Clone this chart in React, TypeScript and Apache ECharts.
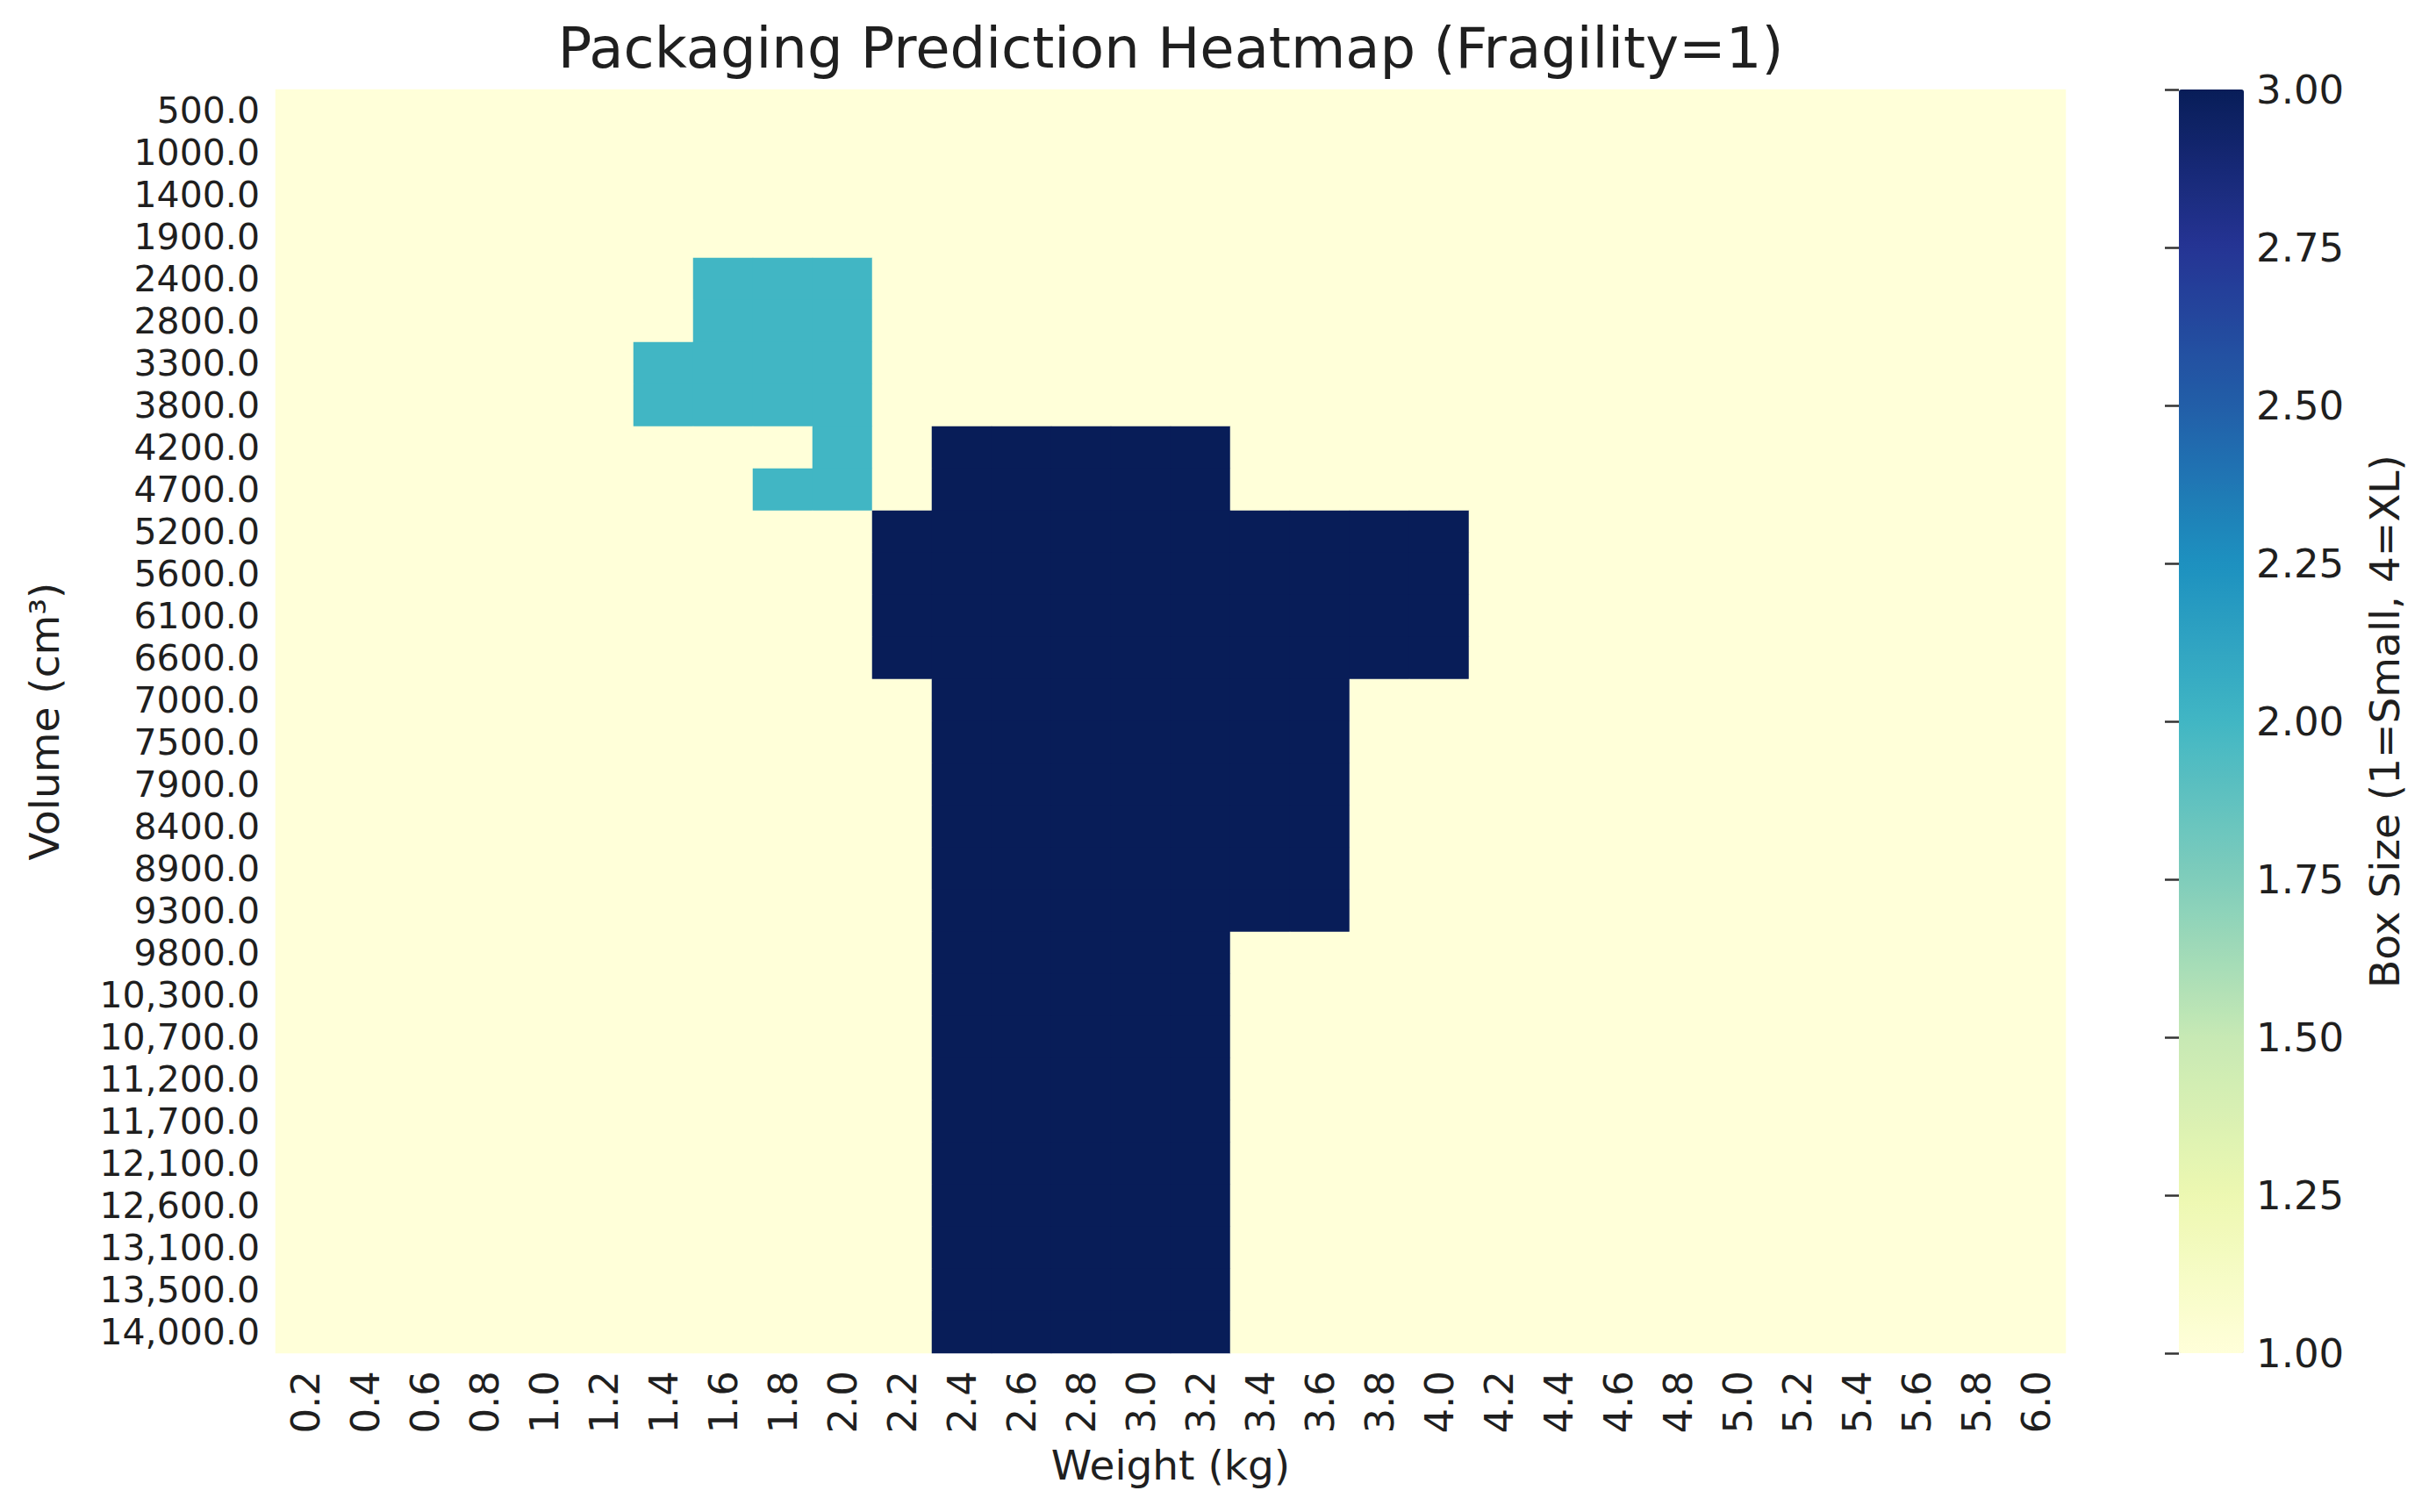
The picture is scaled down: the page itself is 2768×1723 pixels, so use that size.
import React, { useEffect, useRef } from "react";
import * as echarts from "echarts";

// ---- data ----
const weights = [
  "0.2", "0.4", "0.6", "0.8", "1.0", "1.2", "1.4", "1.6", "1.8", "2.0",
  "2.2", "2.4", "2.6", "2.8", "3.0", "3.2", "3.4", "3.6", "3.8", "4.0",
  "4.2", "4.4", "4.6", "4.8", "5.0", "5.2", "5.4", "5.6", "5.8", "6.0",
];

const volumes = [
  "500.0", "1000.0", "1400.0", "1900.0", "2400.0", "2800.0", "3300.0", "3800.0",
  "4200.0", "4700.0", "5200.0", "5600.0", "6100.0", "6600.0", "7000.0", "7500.0",
  "7900.0", "8400.0", "8900.0", "9300.0", "9800.0", "10,300.0", "10,700.0",
  "11,200.0", "11,700.0", "12,100.0", "12,600.0", "13,100.0", "13,500.0", "14,000.0",
];

// predicted box size per volume row (top to bottom) and weight column (left to right)
const boxSize: number[][] = [
  [1,1,1,1,1,1,1,1,1,1, 1,1,1,1,1,1,1,1,1,1, 1,1,1,1,1,1,1,1,1,1], // 500
  [1,1,1,1,1,1,1,1,1,1, 1,1,1,1,1,1,1,1,1,1, 1,1,1,1,1,1,1,1,1,1], // 1000
  [1,1,1,1,1,1,1,1,1,1, 1,1,1,1,1,1,1,1,1,1, 1,1,1,1,1,1,1,1,1,1], // 1400
  [1,1,1,1,1,1,1,1,1,1, 1,1,1,1,1,1,1,1,1,1, 1,1,1,1,1,1,1,1,1,1], // 1900
  [1,1,1,1,1,1,1,2,2,2, 1,1,1,1,1,1,1,1,1,1, 1,1,1,1,1,1,1,1,1,1], // 2400
  [1,1,1,1,1,1,1,2,2,2, 1,1,1,1,1,1,1,1,1,1, 1,1,1,1,1,1,1,1,1,1], // 2800
  [1,1,1,1,1,1,2,2,2,2, 1,1,1,1,1,1,1,1,1,1, 1,1,1,1,1,1,1,1,1,1], // 3300
  [1,1,1,1,1,1,2,2,2,2, 1,1,1,1,1,1,1,1,1,1, 1,1,1,1,1,1,1,1,1,1], // 3800
  [1,1,1,1,1,1,1,1,1,2, 1,3,3,3,3,3,1,1,1,1, 1,1,1,1,1,1,1,1,1,1], // 4200
  [1,1,1,1,1,1,1,1,2,2, 1,3,3,3,3,3,1,1,1,1, 1,1,1,1,1,1,1,1,1,1], // 4700
  [1,1,1,1,1,1,1,1,1,1, 3,3,3,3,3,3,3,3,3,3, 1,1,1,1,1,1,1,1,1,1], // 5200
  [1,1,1,1,1,1,1,1,1,1, 3,3,3,3,3,3,3,3,3,3, 1,1,1,1,1,1,1,1,1,1], // 5600
  [1,1,1,1,1,1,1,1,1,1, 3,3,3,3,3,3,3,3,3,3, 1,1,1,1,1,1,1,1,1,1], // 6100
  [1,1,1,1,1,1,1,1,1,1, 3,3,3,3,3,3,3,3,3,3, 1,1,1,1,1,1,1,1,1,1], // 6600
  [1,1,1,1,1,1,1,1,1,1, 1,3,3,3,3,3,3,3,1,1, 1,1,1,1,1,1,1,1,1,1], // 7000
  [1,1,1,1,1,1,1,1,1,1, 1,3,3,3,3,3,3,3,1,1, 1,1,1,1,1,1,1,1,1,1], // 7500
  [1,1,1,1,1,1,1,1,1,1, 1,3,3,3,3,3,3,3,1,1, 1,1,1,1,1,1,1,1,1,1], // 7900
  [1,1,1,1,1,1,1,1,1,1, 1,3,3,3,3,3,3,3,1,1, 1,1,1,1,1,1,1,1,1,1], // 8400
  [1,1,1,1,1,1,1,1,1,1, 1,3,3,3,3,3,3,3,1,1, 1,1,1,1,1,1,1,1,1,1], // 8900
  [1,1,1,1,1,1,1,1,1,1, 1,3,3,3,3,3,3,3,1,1, 1,1,1,1,1,1,1,1,1,1], // 9300
  [1,1,1,1,1,1,1,1,1,1, 1,3,3,3,3,3,1,1,1,1, 1,1,1,1,1,1,1,1,1,1], // 9800
  [1,1,1,1,1,1,1,1,1,1, 1,3,3,3,3,3,1,1,1,1, 1,1,1,1,1,1,1,1,1,1], // 10300
  [1,1,1,1,1,1,1,1,1,1, 1,3,3,3,3,3,1,1,1,1, 1,1,1,1,1,1,1,1,1,1], // 10700
  [1,1,1,1,1,1,1,1,1,1, 1,3,3,3,3,3,1,1,1,1, 1,1,1,1,1,1,1,1,1,1], // 11200
  [1,1,1,1,1,1,1,1,1,1, 1,3,3,3,3,3,1,1,1,1, 1,1,1,1,1,1,1,1,1,1], // 11700
  [1,1,1,1,1,1,1,1,1,1, 1,3,3,3,3,3,1,1,1,1, 1,1,1,1,1,1,1,1,1,1], // 12100
  [1,1,1,1,1,1,1,1,1,1, 1,3,3,3,3,3,1,1,1,1, 1,1,1,1,1,1,1,1,1,1], // 12600
  [1,1,1,1,1,1,1,1,1,1, 1,3,3,3,3,3,1,1,1,1, 1,1,1,1,1,1,1,1,1,1], // 13100
  [1,1,1,1,1,1,1,1,1,1, 1,3,3,3,3,3,1,1,1,1, 1,1,1,1,1,1,1,1,1,1], // 13500
  [1,1,1,1,1,1,1,1,1,1, 1,3,3,3,3,3,1,1,1,1, 1,1,1,1,1,1,1,1,1,1], // 14000
];

const colorbarTicks = [1.0, 1.25, 1.5, 1.75, 2.0, 2.25, 2.5, 2.75, 3.0];

const ylgnbu = [
  "#ffffd9", "#edf8b1", "#c7e9b4", "#7fcdbb", "#41b6c4",
  "#1d91c0", "#225ea8", "#253494", "#081d58",
];

const titleText = "Packaging Prediction Heatmap (Fragility=1)";
const xTitle = "Weight (kg)";
const yTitle = "Volume (cm³)";
const cbTitle = "Box Size (1=Small, 4=XL)";

// ---- layout ----
const W = 2768;
const H = 1723;
const FONT = "DejaVu Sans";
const TXT = "#1f1f1f";
const plot = { left: 314, top: 102, width: 2040, height: 1440 };
const cb = { left: 2483, top: 102, width: 74, height: 1440 };

export default function App() {
  const ref = useRef<HTMLDivElement>(null);

  useEffect(() => {
    if (!ref.current) return;
    const chart = echarts.init(ref.current, null, { renderer: "svg" });

    const heatData = boxSize.flatMap((row, yi) => row.map((v, xi) => [xi, yi, v]));
    const cbMin = colorbarTicks[0];
    const cbMax = colorbarTicks[colorbarTicks.length - 1];
    const cbInterval = colorbarTicks[1] - colorbarTicks[0];

    const option: any = {
      animation: false,
      backgroundColor: "#ffffff",
      textStyle: { fontFamily: FONT },
      grid: [
        { left: plot.left, top: plot.top, width: plot.width, height: plot.height, containLabel: false },
        { left: cb.left, top: cb.top, width: cb.width, height: cb.height, containLabel: false },
      ],
      xAxis: [
        {
          type: "category",
          gridIndex: 0,
          data: weights,
          axisLine: { show: false },
          splitLine: { show: false },
          axisTick: {
            show: true,
            inside: true,
            alignWithLabel: true,
            interval: 0,
            length: 15,
            lineStyle: { color: "#333", width: 2.5 },
          },
          axisLabel: {
            interval: 0,
            rotate: 90,
            margin: 20,
            fontSize: 45,
            fontFamily: FONT,
            color: TXT,
          },
        },
        { type: "value", gridIndex: 1, min: 0, max: 1, show: false },
      ],
      yAxis: [
        {
          type: "category",
          gridIndex: 0,
          data: volumes,
          inverse: true,
          axisLine: { show: false },
          splitLine: { show: false },
          axisTick: {
            show: true,
            inside: true,
            alignWithLabel: true,
            interval: 0,
            length: 16,
            lineStyle: { color: "#333", width: 2.5 },
          },
          axisLabel: {
            interval: 0,
            margin: 18,
            fontSize: 41,
            fontFamily: FONT,
            color: TXT,
          },
        },
        {
          type: "value",
          gridIndex: 1,
          position: "right",
          min: cbMin,
          max: cbMax,
          interval: cbInterval,
          axisLine: { show: false },
          splitLine: { show: false },
          axisTick: {
            show: true,
            inside: true,
            length: 16,
            lineStyle: { color: "#333", width: 2.5 },
          },
          axisLabel: {
            margin: 14,
            fontSize: 45,
            fontFamily: FONT,
            color: TXT,
            formatter: (v: number) => v.toFixed(2),
          },
        },
      ],
      visualMap: {
        type: "continuous",
        seriesIndex: 0,
        min: cbMin,
        max: cbMax,
        calculable: false,
        hoverLink: false,
        orient: "vertical",
        left: cb.left,
        top: cb.top,
        itemWidth: cb.width,
        itemHeight: cb.height,
        padding: 0,
        inRange: { color: ylgnbu },
      },
      series: [
        {
          type: "heatmap",
          xAxisIndex: 0,
          yAxisIndex: 0,
          data: heatData,
          itemStyle: { borderWidth: 0 },
          emphasis: { disabled: true },
          progressive: 0,
        },
      ],
      graphic: [
        {
          type: "text",
          x: plot.left + plot.width / 2,
          y: 55,
          style: {
            text: titleText,
            fontSize: 64,
            fontFamily: FONT,
            fill: TXT,
            align: "center",
            verticalAlign: "middle",
          },
        },
        {
          type: "text",
          x: plot.left + plot.width / 2,
          y: 1669,
          style: {
            text: xTitle,
            fontSize: 47,
            fontFamily: FONT,
            fill: TXT,
            align: "center",
            verticalAlign: "middle",
          },
        },
        {
          type: "text",
          x: 50,
          y: plot.top + plot.height / 2,
          rotation: Math.PI / 2,
          style: {
            text: yTitle,
            fontSize: 47,
            fontFamily: FONT,
            fill: TXT,
            align: "center",
            verticalAlign: "middle",
          },
        },
        {
          type: "text",
          x: 2717,
          y: cb.top + cb.height / 2,
          rotation: Math.PI / 2,
          style: {
            text: cbTitle,
            fontSize: 47,
            fontFamily: FONT,
            fill: TXT,
            align: "center",
            verticalAlign: "middle",
          },
        },
      ],
    };

    chart.setOption(option);
    return () => chart.dispose();
  }, []);

  return (
    <div
      ref={ref}
      style={{ position: "fixed", left: 0, top: 0, width: W, height: H, background: "#fff" }}
    />
  );
}
